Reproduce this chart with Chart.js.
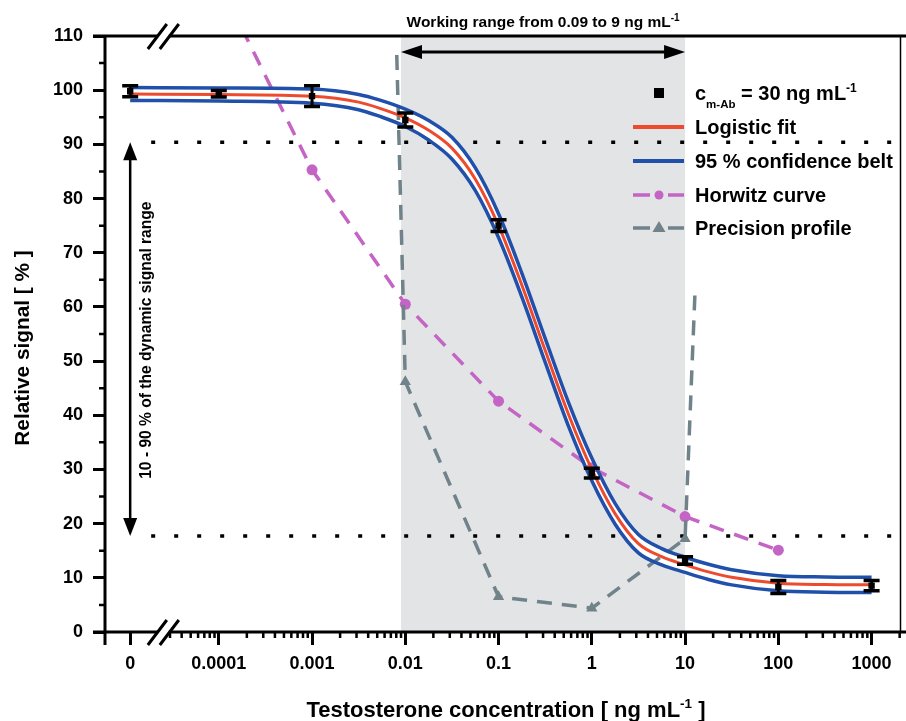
<!DOCTYPE html>
<html>
<head>
<meta charset="utf-8">
<script src="https://cdn.jsdelivr.net/npm/chart.js@4.4.1/dist/chart.umd.min.js"></script>
<style>
  html, body { margin: 0; padding: 0; background: #fff; }
  canvas { display: block; }
</style>
</head>
<body>
<canvas id="chart" width="906" height="721"></canvas>
<script>
// concentrations in ng/mL, 0 sits left of the axis break
const measuredConc = [0, 0.0001, 0.001, 0.01, 0.1, 1, 10, 100, 1000];
const measuredSignal = [99.8, 99.35, 98.9, 94.5, 75.0, 29.3, 13.2, 8.3, 8.55];
const measuredErr = [1.0, 0.6, 1.9, 1.3, 1.1, 0.9, 0.7, 1.2, 0.95];

const fitConc = [0, 0.0001, 0.001, 0.00316, 0.00525, 0.01, 0.0178, 0.0316, 0.0562, 0.1, 0.178, 0.316,
  0.562, 1, 1.78, 3.16, 5.62, 10, 17.8, 31.6, 100, 316, 1000];
const fitSignal = [99.3, 99.2, 98.9, 97.8, 96.7, 94.9, 92.6, 89.3, 83.6, 75.0, 64.0, 52.0,
  40.2, 30.0, 21.8, 16.3, 13.9, 12.4, 11.1, 10.1, 9.0, 8.75, 8.7];
const beltUpper = [100.5, 100.4, 100.2, 99.2, 98.2, 96.5, 94.4, 91.3, 85.7, 77.2, 66.2, 54.2,
  42.4, 32.1, 23.7, 18.0, 15.4, 13.8, 12.5, 11.5, 10.4, 10.15, 10.1];
const beltLower = [98.1, 98.0, 97.6, 96.4, 95.2, 93.3, 90.8, 87.3, 81.5, 72.8, 61.8, 49.8,
  38.0, 27.9, 19.9, 14.6, 12.4, 11.0, 9.7, 8.7, 7.6, 7.35, 7.3];

const horwitzConc = [0.0001, 0.001, 0.01, 0.1, 1, 10, 100];
const horwitzSignal = [120, 85.3, 60.5, 42.6, 30.3, 21.3, 15.1];

const precisionConc = [0.0081, 0.01, 0.1, 1, 10, 12.8];
const precisionSignal = [106.5, 46.2, 6.5, 4.4, 17.2, 63];

const xTickConc = [0, 0.0001, 0.001, 0.01, 0.1, 1, 10, 100, 1000];
const xTickLabels = ['0', '0.0001', '0.001', '0.01', '0.1', '1', '10', '100', '1000'];

const workingRange = [0.009, 10];
const signalRange = [90.4, 17.7]; // 90 % and 10 % of the dynamic range

// axis layout (log10 units)
const ZERO_POS = -4.95;
const BREAK_AT = -4.6;
const X_MIN = -5.22, X_MAX = 3.31;

const FONT = 'Liberation Sans, Arial, Helvetica, sans-serif';
const RED = '#ee4a2e', BLUE = '#2050aa', PINK = '#c464c4', GRAY = '#70838a';

const toX = c => (c === 0 ? ZERO_POS : Math.log10(c));
const pts = (cs, vs) => cs.map((c, i) => ({ x: toX(c), y: vs[i] }));

function rich(ctx, parts, x, y, align) {
  let w = 0;
  parts.forEach(p => {
    ctx.font = `bold ${p[1]}px ${FONT}`;
    p.w = ctx.measureText(p[0]).width;
    w += p.w;
  });
  let cx = align === 'center' ? x - w / 2 : x;
  ctx.textAlign = 'left';
  ctx.textBaseline = 'alphabetic';
  parts.forEach(p => {
    ctx.font = `bold ${p[1]}px ${FONT}`;
    ctx.fillText(p[0], cx, y + (p[2] || 0));
    cx += p.w;
  });
}

function arrowHead(ctx, tx, ty, dx, dy, len, half) {
  const bx = tx - dx * len, by = ty - dy * len;
  ctx.beginPath();
  ctx.moveTo(tx, ty);
  ctx.lineTo(bx - dy * half, by + dx * half);
  ctx.lineTo(bx + dy * half, by - dx * half);
  ctx.closePath();
  ctx.fill();
}

const overlay = {
  id: 'overlay',
  beforeDraw(chart) {
    const { ctx, chartArea: a, scales: { x, y } } = chart;
    ctx.save();
    ctx.fillStyle = '#fff';
    ctx.fillRect(0, 0, chart.width, chart.height);
    // working range band
    const x0 = x.getPixelForValue(toX(workingRange[0]));
    const x1 = x.getPixelForValue(toX(workingRange[1]));
    ctx.fillStyle = '#e2e4e5';
    ctx.fillRect(x0, a.top, x1 - x0, a.bottom - a.top);
    // dotted 10 / 90 % lines
    ctx.strokeStyle = '#000';
    ctx.lineWidth = 3.5;
    ctx.setLineDash([4, 19]);
    signalRange.forEach(v => {
      const py = y.getPixelForValue(v);
      ctx.beginPath();
      ctx.moveTo(x.getPixelForValue(ZERO_POS) + 21, py);
      ctx.lineTo(a.right, py);
      ctx.stroke();
    });
    ctx.restore();
  },
  afterDatasetsDraw(chart) {
    const { ctx, chartArea: a, scales: { x, y } } = chart;
    ctx.save();
    // error bars
    ctx.strokeStyle = '#000';
    measuredConc.forEach((c, i) => {
      const px = x.getPixelForValue(toX(c));
      const t = y.getPixelForValue(measuredSignal[i] + measuredErr[i]);
      const b = y.getPixelForValue(measuredSignal[i] - measuredErr[i]);
      ctx.lineWidth = 3;
      ctx.beginPath(); ctx.moveTo(px, t); ctx.lineTo(px, b); ctx.stroke();
      ctx.lineWidth = 3.5;
      ctx.beginPath();
      ctx.moveTo(px - 8, t); ctx.lineTo(px + 8, t);
      ctx.moveTo(px - 8, b); ctx.lineTo(px + 8, b);
      ctx.stroke();
    });

    // axes frame
    ctx.lineWidth = 3;
    ctx.beginPath();
    ctx.moveTo(a.left, a.top); ctx.lineTo(a.left, a.bottom + 13);
    ctx.moveTo(a.left - 12, a.bottom); ctx.lineTo(chart.width, a.bottom);
    ctx.moveTo(a.left - 12, a.top); ctx.lineTo(chart.width, a.top);
    ctx.stroke();
    ctx.lineWidth = 1.5;
    ctx.beginPath(); ctx.moveTo(a.right, a.top); ctx.lineTo(a.right, a.bottom); ctx.stroke();

    // minor ticks
    ctx.lineWidth = 2.5;
    ctx.beginPath();
    for (let v = 5; v < 110; v += 10) {
      const py = y.getPixelForValue(v);
      ctx.moveTo(a.left - 6, py); ctx.lineTo(a.left, py);
    }
    for (let d = -5; d <= 3; d++) {
      for (let k = 2; k <= 9; k++) {
        const v = Math.log10(k) + d;
        if (v < BREAK_AT + 0.05 || v > X_MAX) continue;
        const px = x.getPixelForValue(v);
        ctx.moveTo(px, a.bottom); ctx.lineTo(px, a.bottom + 6);
      }
    }
    ctx.stroke();

    // axis break marks
    const bx = x.getPixelForValue(BREAK_AT);
    [a.top, a.bottom].forEach(ly => {
      ctx.fillStyle = '#fff';
      ctx.fillRect(bx - 5, ly - 3, 11, 6);
      ctx.lineWidth = 3;
      ctx.beginPath();
      ctx.moveTo(bx - 15, ly + 13); ctx.lineTo(bx + 4, ly - 12);
      ctx.moveTo(bx - 3, ly + 13); ctx.lineTo(bx + 16, ly - 12);
      ctx.stroke();
    });
    ctx.restore();
  },
  afterDraw(chart) {
    const { ctx, chartArea: a, scales: { x, y } } = chart;
    ctx.save();
    ctx.fillStyle = '#000';
    ctx.strokeStyle = '#000';

    // working range arrow
    const x0 = x.getPixelForValue(toX(workingRange[0]));
    const x1 = x.getPixelForValue(toX(workingRange[1]));
    const ay = a.top + 16;
    ctx.lineWidth = 3;
    ctx.beginPath(); ctx.moveTo(x0 + 12, ay); ctx.lineTo(x1 - 12, ay); ctx.stroke();
    arrowHead(ctx, x0, ay, -1, 0, 21, 7);
    arrowHead(ctx, x1, ay, 1, 0, 21, 7);
    rich(ctx, [['Working range from 0.09 to 9 ng mL', 15.5], ['-1', 10, -6]], (x0 + x1) / 2, 27, 'center');

    // 10 - 90 % arrow
    const vx = x.getPixelForValue(ZERO_POS);
    const y0 = y.getPixelForValue(signalRange[0]);
    const y1 = y.getPixelForValue(signalRange[1]);
    ctx.lineWidth = 2.5;
    ctx.beginPath(); ctx.moveTo(vx, y0 + 10); ctx.lineTo(vx, y1 - 10); ctx.stroke();
    arrowHead(ctx, vx, y0, 0, -1, 18, 7);
    arrowHead(ctx, vx, y1, 0, 1, 18, 7);
    ctx.save();
    ctx.translate(vx + 20.5, (y0 + y1) / 2 + 1);
    ctx.rotate(-Math.PI / 2);
    rich(ctx, [['10 - 90 % of the dynamic signal range', 15.6]], 0, 0, 'center');
    ctx.restore();

    // axis titles
    ctx.save();
    ctx.translate(28.5, 348);
    ctx.rotate(-Math.PI / 2);
    rich(ctx, [['Relative signal [ % ]', 20.8]], 0, 0, 'center');
    ctx.restore();
    rich(ctx, [['Testosterone concentration [ ng mL', 22], ['-1', 13.5, -9], [' ]', 22]], 506, 716.5, 'center');

    // legend
    const lx0 = 633, lx1 = 684, lc = 659, tx = 695;
    const LF = 20;
    ctx.fillRect(lc - 5, 88, 10, 10);
    rich(ctx, [['c', LF], ['m-Ab', 11.5, 8], [' = 30 ng mL', LF], ['-1', 12, -8]], tx, 100);
    ctx.lineWidth = 4;
    ctx.strokeStyle = RED;
    ctx.beginPath(); ctx.moveTo(lx0, 127); ctx.lineTo(lx1, 127); ctx.stroke();
    rich(ctx, [['Logistic fit', LF]], tx, 134);
    ctx.strokeStyle = BLUE;
    ctx.beginPath(); ctx.moveTo(lx0, 161); ctx.lineTo(lx1, 161); ctx.stroke();
    rich(ctx, [['95 % confidence belt', LF]], tx, 168);
    ctx.strokeStyle = PINK; ctx.fillStyle = PINK;
    ctx.lineWidth = 3.5;
    ctx.beginPath();
    ctx.moveTo(lx0, 195); ctx.lineTo(lc - 9, 195);
    ctx.moveTo(lc + 9, 195); ctx.lineTo(lx1, 195);
    ctx.stroke();
    ctx.beginPath(); ctx.arc(lc, 195, 4.5, 0, Math.PI * 2); ctx.fill();
    ctx.strokeStyle = GRAY; ctx.fillStyle = GRAY;
    ctx.beginPath();
    ctx.moveTo(lx0, 228); ctx.lineTo(lc - 9, 228);
    ctx.moveTo(lc + 9, 228); ctx.lineTo(lx1, 228);
    ctx.stroke();
    ctx.beginPath(); ctx.moveTo(lc, 221); ctx.lineTo(lc + 6.5, 232); ctx.lineTo(lc - 6.5, 232); ctx.closePath(); ctx.fill();
    ctx.fillStyle = '#000';
    rich(ctx, [['Horwitz curve', LF]], tx, 202);
    rich(ctx, [['Precision profile', LF]], tx, 235);
    ctx.restore();
  }
};

const tickFont = { family: FONT, size: 18, weight: 'bold' };

new Chart(document.getElementById('chart'), {
  type: 'scatter',
  data: {
    datasets: [
      {
        label: 'c m-Ab = 30 ng mL-1',
        data: pts(measuredConc, measuredSignal),
        pointStyle: 'rect', pointRadius: 4.5,
        backgroundColor: '#000', borderColor: '#000', borderWidth: 0,
        order: 0
      },
      {
        label: 'Logistic fit',
        data: pts(fitConc, fitSignal),
        showLine: true, borderColor: RED, borderWidth: 3, pointRadius: 0,
        cubicInterpolationMode: 'monotone', order: 1
      },
      {
        label: '95 % confidence belt',
        data: pts(fitConc, beltUpper),
        showLine: true, borderColor: BLUE, borderWidth: 3.5, pointRadius: 0,
        cubicInterpolationMode: 'monotone', fill: '+1', backgroundColor: '#ffffff', order: 2
      },
      {
        label: '95 % confidence belt (lower)',
        data: pts(fitConc, beltLower),
        showLine: true, borderColor: BLUE, borderWidth: 3.5, pointRadius: 0,
        cubicInterpolationMode: 'monotone', order: 3
      },
      {
        label: 'Precision profile',
        data: pts(precisionConc, precisionSignal),
        showLine: true, borderColor: GRAY, borderWidth: 3.5, borderDash: [15, 10],
        pointStyle: 'triangle',
        pointRadius: precisionConc.map((c, i) => (i === 0 || i === precisionConc.length - 1 ? 0 : 6.5)),
        pointBackgroundColor: GRAY, pointBorderWidth: 0, order: 4
      },
      {
        label: 'Horwitz curve',
        data: pts(horwitzConc, horwitzSignal),
        showLine: true, borderColor: PINK, borderWidth: 3.5, borderDash: [15, 11],
        pointStyle: 'circle', pointRadius: 5.5,
        pointBackgroundColor: PINK, pointBorderWidth: 0, order: 5
      }
    ]
  },
  options: {
    responsive: false,
    animation: false,
    devicePixelRatio: 1,
    layout: { padding: { top: 36, right: 1, left: 0, bottom: 0 } },
    plugins: {
      legend: { display: false },
      tooltip: { enabled: false },
      filler: { drawTime: 'beforeDatasetsDraw' }
    },
    scales: {
      x: {
        type: 'linear', min: X_MIN, max: X_MAX,
        afterBuildTicks: s => { s.ticks = xTickConc.map(c => ({ value: toX(c) })); },
        afterFit: s => { s.height = 89; },
        ticks: {
          callback: (v, i) => xTickLabels[i],
          font: tickFont, color: '#000', padding: 8, autoSkip: false, maxRotation: 0
        },
        grid: { drawOnChartArea: false, drawTicks: true, tickLength: 13, tickWidth: 3, tickColor: '#000', color: '#000' },
        border: { display: false }
      },
      y: {
        min: 0, max: 110,
        afterFit: s => { s.width = 105; },
        ticks: { stepSize: 10, font: tickFont, color: '#000', padding: 10 },
        grid: { drawOnChartArea: false, drawTicks: true, tickLength: 12, tickWidth: 3, tickColor: '#000', color: '#000' },
        border: { display: false }
      }
    }
  },
  plugins: [overlay]
});
</script>
</body>
</html>
